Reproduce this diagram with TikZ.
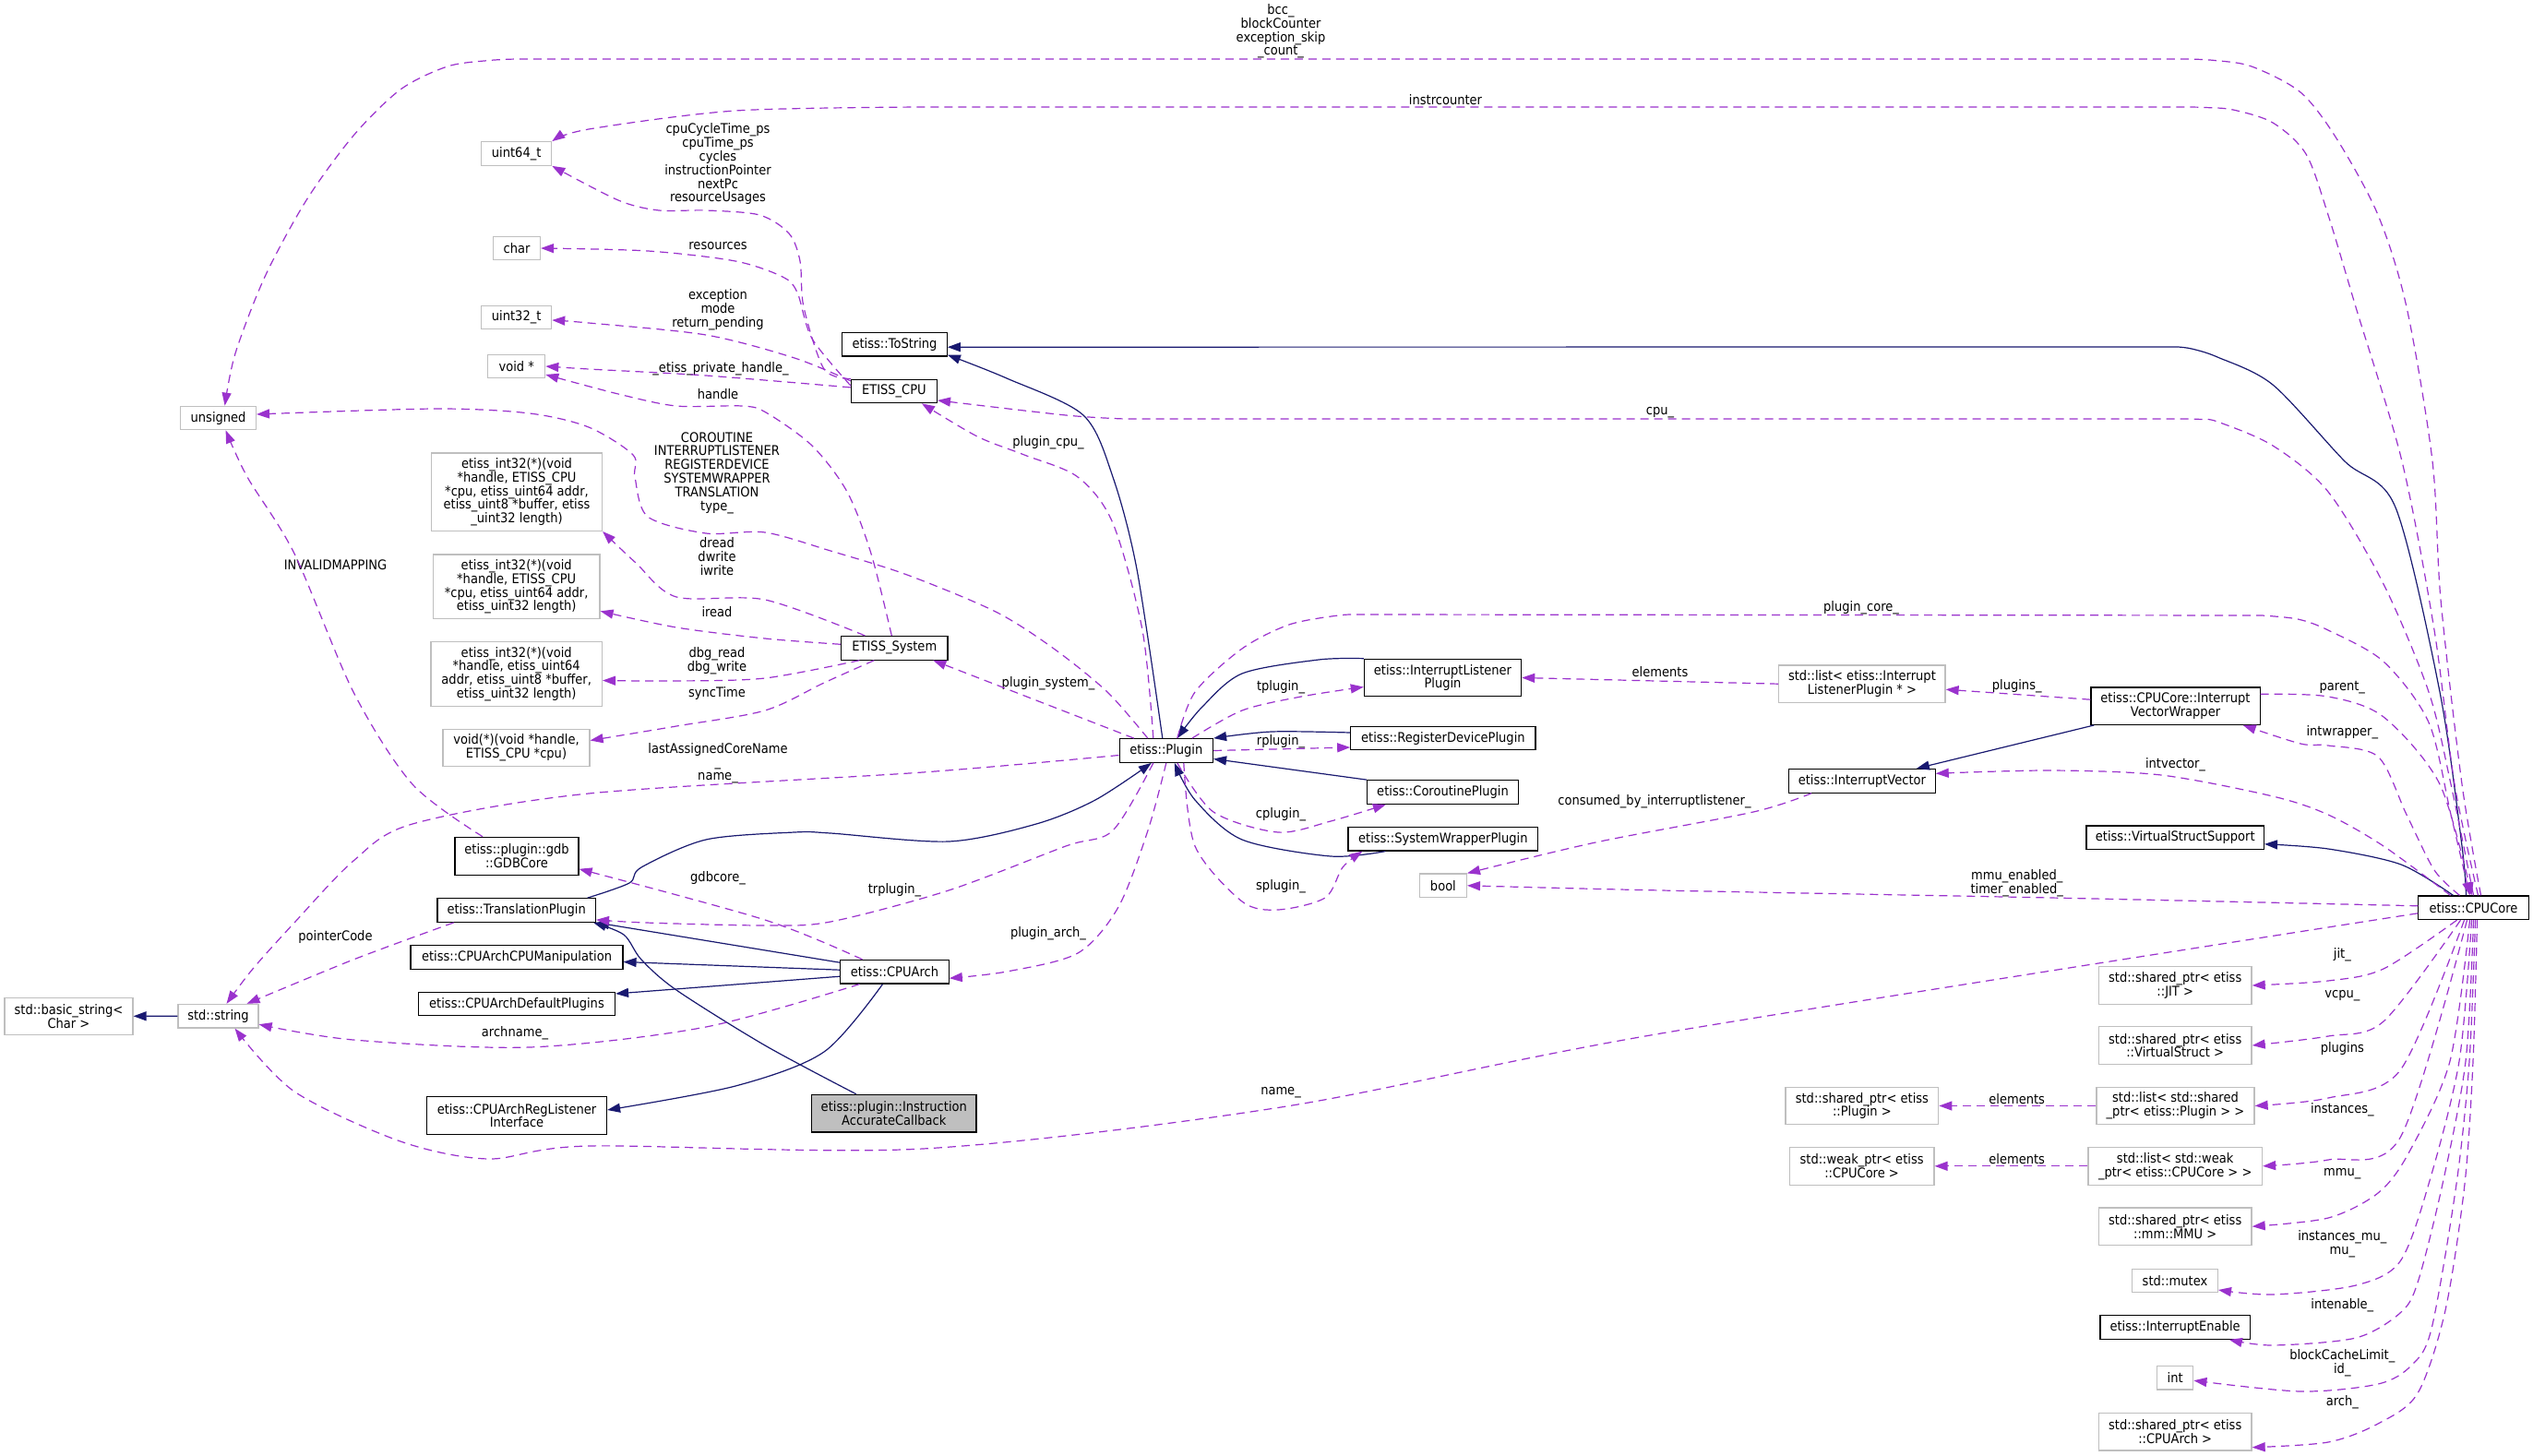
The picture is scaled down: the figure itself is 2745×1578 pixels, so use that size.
\documentclass[tikz,border=0pt]{standalone}
\usepackage{fontspec}
\setmainfont{DejaVu Sans}[FakeStretch=0.9]
\usetikzlibrary{arrows.meta}
\definecolor{purp}{HTML}{9A32CD}
\definecolor{navy}{HTML}{191970}
\definecolor{edgegray}{HTML}{BFBFBF}
\definecolor{graybox}{HTML}{BFBFBF}

\begin{document}
\begin{tikzpicture}[
    x=1pt, y=-1pt,
    every node/.style={font=\fontsize{14.5}{14.8}\selectfont, inner sep=3pt, align=center},
    cls/.style={rectangle, draw=black, line width=1.2pt, fill=white, minimum height=25.6},
    ext/.style={rectangle, draw=edgegray, line width=1.2pt, fill=white, minimum height=25.6},
    lbl/.style={inner sep=0pt},
    member/.style={draw=purp, line width=1.2pt, dash pattern=on 9pt off 6pt, -{Triangle[length=14pt,width=10pt]}, fill=none},
    inherit/.style={draw=navy, line width=1.2pt, -{Triangle[length=14pt,width=10pt]}}
]
\path[use as bounding box, fill=white] (0,0) rectangle (2745,1578);

\node[ext, minimum width=76] (u64) at (559.7,166.5) {uint64\_t};
\node[ext, minimum width=51] (chr) at (560,269) {char};
\node[ext, minimum width=76] (u32) at (559.7,344) {uint32\_t};
\node[ext, minimum width=62] (voidp) at (559.7,397) {void *};
\node[ext, minimum width=81.6] (unsig) at (236.6,453) {unsigned};
\node[ext, minimum width=185, minimum height=84.3] (fmem) at (560,533.2) {etiss\_int32(*)(void\\ *handle, ETISS\_CPU\\ *cpu, etiss\_uint64 addr,\\ etiss\_uint8 *buffer, etiss\\ \_uint32 length)};
\node[ext, minimum width=180.6, minimum height=69.7] (fio) at (559.7,635.9) {etiss\_int32(*)(void\\ *handle, ETISS\_CPU\\ *cpu, etiss\_uint64 addr,\\ etiss\_uint32 length)};
\node[ext, minimum width=185.5, minimum height=69.6] (fdbg) at (559.7,730.5) {etiss\_int32(*)(void\\ *handle, etiss\_uint64\\ addr, etiss\_uint8 *buffer,\\ etiss\_uint32 length)};
\node[ext, minimum width=159, minimum height=40.4] (fsync) at (559.5,810.5) {void(*)(void *handle,\\ ETISS\_CPU *cpu)};
\node[cls, minimum width=134, minimum height=41] (gdb) at (560,927.8) {etiss::plugin::gdb\\ ::GDBCore};
\node[cls, minimum width=171.4] (trans) at (559.7,986.5) {etiss::TranslationPlugin};
\node[cls, minimum width=230] (manip) at (560,1037.5) {etiss::CPUArchCPUManipulation};
\node[cls, minimum width=213] (defpl) at (560,1088) {etiss::CPUArchDefaultPlugins};
\node[ext, minimum width=139, minimum height=40] (bstr) at (74.5,1101.3) {std::basic\_string<\\ Char >};
\node[ext, minimum width=87] (str) at (236.5,1101.2) {std::string};
\node[cls, minimum width=195, minimum height=40.6] (regl) at (560,1209) {etiss::CPUArchRegListener\\ Interface};
\node[cls, minimum width=117.4] (arch) at (969.5,1053.2) {etiss::CPUArch};
\node[cls, fill=graybox, minimum width=178.5, minimum height=40.7] (iac) at (968.8,1206.7) {etiss::plugin::Instruction\\ AccurateCallback};
\node[cls, minimum width=93] (cpu) at (968.9,423.9) {ETISS\_CPU};
\node[cls, minimum width=113.5] (tostr) at (969.5,373.2) {etiss::ToString};
\node[cls, minimum width=115.5] (sys) at (969.3,702.3) {ETISS\_System};
\node[cls, minimum width=101.4] (plugin) at (1263.8,813.5) {etiss::Plugin};
\node[cls, minimum width=170.3, minimum height=40.4] (ilp) at (1563.5,734.5) {etiss::InterruptListener\\ Plugin};
\node[cls, minimum width=200.3] (rdp) at (1563.9,800) {etiss::RegisterDevicePlugin};
\node[cls, minimum width=164] (crp) at (1563.5,858.5) {etiss::CoroutinePlugin};
\node[cls, minimum width=205.6] (swp) at (1563.8,909.2) {etiss::SystemWrapperPlugin};
\node[ext, minimum width=51] (boolT) at (1563.9,959.8) {bool};
\node[ext, minimum width=180.2, minimum height=40.3] (ilist) at (2017.9,741.2) {std::list< etiss::Interrupt\\ ListenerPlugin * >};
\node[cls, minimum width=183.2, minimum height=40.3] (ivw) at (2357.5,765.2) {etiss::CPUCore::Interrupt\\ VectorWrapper};
\node[cls, minimum width=158.5] (ivec) at (2017.9,846.3) {etiss::InterruptVector};
\node[cls, minimum width=192.3] (vss) at (2357.2,907.8) {etiss::VirtualStructSupport};
\node[cls, minimum width=119.3] (core) at (2680.5,983.8) {etiss::CPUCore};
\node[ext, minimum width=165.7, minimum height=40.6] (jit) at (2357.2,1068) {std::shared\_ptr< etiss\\ ::JIT >};
\node[ext, minimum width=165.7, minimum height=40.6] (vs) at (2357.2,1133) {std::shared\_ptr< etiss\\ ::VirtualStruct >};
\node[ext, minimum width=171, minimum height=40.4] (plist) at (2357.5,1198.5) {std::list< std::shared\\ \_ptr< etiss::Plugin > >};
\node[ext, minimum width=165.7, minimum height=40.4] (pptr) at (2017.9,1198.5) {std::shared\_ptr< etiss\\ ::Plugin >};
\node[ext, minimum width=188.6, minimum height=41] (clist) at (2357.2,1263.8) {std::list< std::weak\\ \_ptr< etiss::CPUCore > >};
\node[ext, minimum width=156.7, minimum height=41] (wptr) at (2017.6,1263.8) {std::weak\_ptr< etiss\\ ::CPUCore >};
\node[ext, minimum width=165.7, minimum height=40.3] (mmu) at (2357.2,1329.2) {std::shared\_ptr< etiss\\ ::mm::MMU >};
\node[ext, minimum width=92.8] (mutex) at (2357,1388) {std::mutex};
\node[cls, minimum width=162.2] (ienable) at (2357.1,1438.5) {etiss::InterruptEnable};
\node[ext, minimum width=39.2] (intT) at (2357.2,1493.2) {int};
\node[ext, minimum width=165.7, minimum height=40.3] (aptr) at (2357.2,1551.9) {std::shared\_ptr< etiss\\ ::CPUArch >};

\node[lbl] (l-bcc) at (1388,34) {bcc\_\\blockCounter\\exception\_skip\\\_count\_};
\node[lbl] (l-instr) at (1566.5,108) {instrcounter};
\node[lbl] (l-cycle) at (778,178) {cpuCycleTime\_ps\\cpuTime\_ps\\cycles\\instructionPointer\\nextPc\\resourceUsages};
\node[lbl] (l-res) at (778,267) {resources};
\node[lbl] (l-exc) at (778,336) {exception\\mode\\return\_pending};
\node[lbl] (l-priv) at (781,399.5) {\_etiss\_private\_handle\_};
\node[lbl] (l-handle) at (778,427.3) {handle};
\node[lbl] (l-type) at (777,512.5) {COROUTINE\\INTERRUPTLISTENER\\REGISTERDEVICE\\SYSTEMWRAPPER\\TRANSLATION\\type\_};
\node[lbl] (l-dread) at (777,603.3) {dread\\dwrite\\iwrite};
\node[lbl] (l-iread) at (777,663.3) {iread};
\node[lbl] (l-dbg) at (777,715.8) {dbg\_read\\dbg\_write};
\node[lbl] (l-sync) at (777,751.7) {syncTime};
\node[lbl] (l-last) at (778,827) {lastAssignedCoreName\\\_\\name\_};
\node[lbl] (l-invalid) at (363.5,612.7) {INVALIDMAPPING};
\node[lbl] (l-pcpu) at (1136,480) {plugin\_cpu\_};
\node[lbl] (l-psys) at (1136,741) {plugin\_system\_};
\node[lbl] (l-tpl) at (1388,745) {tplugin\_};
\node[lbl] (l-rpl) at (1388,803.3) {rplugin\_};
\node[lbl] (l-cpl) at (1388,882.7) {cplugin\_};
\node[lbl] (l-spl) at (1388,961) {splugin\_};
\node[lbl] (l-elil) at (1799,728.3) {elements};
\node[lbl] (l-plugs) at (2185.7,743.3) {plugins\_};
\node[lbl] (l-pcore) at (2017,659) {plugin\_core\_};
\node[lbl] (l-cpu) at (1799,446.7) {cpu\_};
\node[lbl] (l-parent) at (2538.3,745) {parent\_};
\node[lbl] (l-intw) at (2538.3,793.3) {intwrapper\_};
\node[lbl] (l-intv) at (2357.5,829) {intvector\_};
\node[lbl] (l-consumed) at (1793,868.3) {consumed\_by\_interruptlistener\_};
\node[lbl] (l-mmuen) at (2185.7,957.3) {mmu\_enabled\_\\timer\_enabled\_};
\node[lbl] (l-gdb) at (778,951.7) {gdbcore\_};
\node[lbl] (l-trpl) at (969.5,965) {trplugin\_};
\node[lbl] (l-parch) at (1136,1011.7) {plugin\_arch\_};
\node[lbl] (l-pcode) at (363.5,1015) {pointerCode};
\node[lbl] (l-archname) at (558,1120) {archname\_};
\node[lbl] (l-name) at (1388,1184) {name\_};
\node[lbl] (l-jit) at (2538.3,1035) {jit\_};
\node[lbl] (l-vcpu) at (2538.3,1079) {vcpu\_};
\node[lbl] (l-plugins) at (2538.3,1136.7) {plugins};
\node[lbl] (l-elpp) at (2185.7,1190.7) {elements};
\node[lbl] (l-inst) at (2538.3,1202.7) {instances\_};
\node[lbl] (l-elwp) at (2185.7,1255.7) {elements};
\node[lbl] (l-mmu) at (2538.3,1271.7) {mmu\_};
\node[lbl] (l-mu) at (2538.3,1348.3) {instances\_mu\_\\mu\_};
\node[lbl] (l-inten) at (2538.3,1414.3) {intenable\_};
\node[lbl] (l-bcl) at (2538.3,1477.5) {blockCacheLimit\_\\id\_};
\node[lbl] (l-arch) at (2538.3,1519.3) {arch\_};

\draw[inherit] plot[smooth, tension=.5] coordinates {([xshift=-4pt]plugin.north) (1232,617) (1206,517) (1174,450) (1091,410) ([yshift=2pt]tostr.south east)};
\draw[inherit] plot[smooth, tension=.5] coordinates {([xshift=-8pt]core.north) (2668,917) (2644,750) (2596,550) (2541,500) (2463,417) (2403,387) (2375,378) (2360,376)} -- ([yshift=-3pt]tostr.east);
\draw[inherit] plot[smooth, tension=.5] coordinates {([xshift=-22pt]core.north) (2602,937) (2523,920) ([yshift=-7pt]vss.east)};
\draw[inherit] plot[smooth, tension=.5] coordinates {(ilp.north west) (1429,715) (1346,730) (1302,767) ([xshift=12pt]plugin.north)};
\draw[inherit] plot[smooth, tension=.5] coordinates {([yshift=6pt]rdp.west) (1378,793) (plugin.north east)};
\draw[inherit] (crp.north west) -- ([yshift=-9pt]plugin.east);
\draw[inherit] plot[smooth, tension=.5] coordinates {([xshift=41pt]swp.south west) (1442,928) (1346,910) (1295,867) ([xshift=9pt]plugin.south)};
\draw[inherit] plot[smooth, tension=.5] coordinates {([xshift=77pt]trans.north) (682,957) (695,940) (765,910) (861,902) (900,903) (1028,912) (1123,893) (1187,867) ([xshift=-16pt]plugin.south)};
\draw[inherit] ([yshift=10pt]arch.west) -- (trans.south east);
\draw[inherit] ([yshift=2pt]arch.west) -- ([yshift=-5pt]manip.east);
\draw[inherit] ([yshift=-5pt]arch.west) -- ([yshift=11pt]defpl.east);
\draw[inherit] plot[smooth, tension=.5] coordinates {([xshift=-13pt]arch.south) (893,1140) (797,1177) ([yshift=6pt]regl.east)};
\draw[inherit] plot[smooth, tension=.5] coordinates {([xshift=-41pt]iac.north) (829,1133) (733,1073) (695,1040) (676,1013) ([xshift=-3pt]trans.south east)};
\draw[inherit] (str.west) -- (bstr.east);
\draw[inherit] ([xshift=4pt]ivw.south west) -- ([xshift=59pt]ivec.north);

\draw[member] plot[smooth, tension=.5] coordinates {([xshift=8pt]core.north) (2668,850) (2645,650) (2636,500) (2608,333) (2577,233) (2532,150) (2493,100) (2440,72) (2400,65.5) (2372,64)} -- plot[smooth, tension=.5] coordinates {(560,64) (530,65.5) (485,72) (434,97) (383,147) (332,217) (287,300) (255,383) ([xshift=7pt]unsig.north)};
\draw[member] plot[smooth, tension=.5] coordinates {([xshift=5pt]core.north) (2660,850) (2638,683) (2603,500) (2553,333) (2523,233) (2499,167) (2463,133) (2420,119) (2390,116.5) (2372,116)} -- plot[smooth, tension=.5] coordinates {(1000,116) (797,120) (638,140) (u64.north east)};
\draw[member] plot[smooth, tension=.5] coordinates {(core.north) (2656,850) (2632,750) (2583,633) (2523,533) (2463,483) (2403,457) (2385,454.5) (2372,454)} -- plot[smooth, tension=.5] coordinates {(1219,454) (1155,450) (cpu.-12)};
\draw[member] plot[smooth, tension=.5] coordinates {([xshift=12pt]plugin.north) (1295,750) (1346,703) (1397,677) (1450,667) (1474,666)} -- plot[smooth, tension=.5] coordinates {(2451,667) (2490,671) (2523,683) (2583,717) (2632,783) (2656,883) ([xshift=-4pt]core.north)};
\draw[member] plot[smooth, tension=.5] coordinates {([yshift=13pt]ivw.east) (2523,755) (2583,777) (2644,850) ([xshift=-2pt]core.north)};
\draw[member] plot[smooth, tension=.5] coordinates {([xshift=-25pt]core.north) (2583,917) (2523,883) (2463,863) (2342,840) (2222,835) ([yshift=8pt]ivec.east)};
\draw[member] plot[smooth, tension=.5] coordinates {([xshift=-15pt]core.north) (2638,943) (2608,883) (2577,820) (2523,808) (2493,806) ([xshift=-19pt]ivw.south east)};
\draw[member] plot[smooth, tension=.5] coordinates {([xshift=-18pt]core.south) (2583,1050) (2523,1063) (jit.east)};
\draw[member] plot[smooth, tension=.5] coordinates {([xshift=-14pt]core.south) (2583,1107) (2523,1123) (vs.east)};
\draw[member] plot[smooth, tension=.5] coordinates {([xshift=-10pt]core.south) (2601,1160) (2523,1190) (plist.east)};
\draw[member] plot[smooth, tension=.5] coordinates {([xshift=-7pt]core.south) (2601,1233) (2523,1257) (clist.east)};
\draw[member] plot[smooth, tension=.5] coordinates {([xshift=-4pt]core.south) (2655,1150) (2610,1250) (2577,1293) (2523,1320) (mmu.east)};
\draw[member] plot[smooth, tension=.5] coordinates {([xshift=-2pt]core.south) (2665,1150) (2632,1283) (2601,1367) (2553,1393) (2463,1403) ([yshift=-10pt]mutex.east)};
\draw[member] plot[smooth, tension=.5] coordinates {(core.south) (2672,1150) (2647,1283) (2620,1390) (2601,1423) (2553,1450) (2463,1458) ([xshift=-23pt]ienable.south east)};
\draw[member] plot[smooth, tension=.5] coordinates {([xshift=2pt]core.south) (2676,1150) (2662,1283) (2635,1440) (2613,1480) (2577,1500) (2493,1508) ([yshift=-3pt]intT.east)};
\draw[member] plot[smooth, tension=.5] coordinates {([xshift=4pt]core.south) (2680,1150) (2671,1283) (2650,1420) (2620,1510) (2577,1543) (2523,1563) ([yshift=4pt]aptr.south east)};
\draw[member] plot[smooth, tension=.5] coordinates {([yshift=-6pt]core.west) (1800,1120) (1388,1200) (1000,1245) (638,1242) (529,1256) (434,1237) (319,1183) ([xshift=18pt]str.south)};
\draw[member] plot[smooth, tension=.5] coordinates {([yshift=2pt]core.west) (2222,973) (1800,965) (boolT.east)};
\draw[member] plot[smooth, tension=.5] coordinates {([xshift=25pt]ivec.south west) (1900,880) (1729,913) (boolT.north east)};
\draw[member] (ilist.west) -- (ilp.east);
\draw[member] ([yshift=7pt]ivw.west) -- ([yshift=-6pt]ilist.east);
\draw[member] (plist.west) -- (pptr.east);
\draw[member] (clist.west) -- (wptr.east);

\draw[member] plot[smooth, tension=.5] coordinates {([xshift=28pt]plugin.north) (1346,770) (1410,755) ([yshift=-10pt]ilp.west)};
\draw[member] (plugin.east) -- ([yshift=-10pt]rdp.west);
\draw[member] plot[smooth, tension=.5] coordinates {([xshift=12pt]plugin.south) (1315,880) (1385,902) (1442,890) ([xshift=21pt]crp.south west)};
\draw[member] plot[smooth, tension=.5] coordinates {([xshift=19pt]plugin.south) (1295,917) (1346,977) (1385,986) (1436,973) (1455,940) ([xshift=16pt]swp.south west)};
\draw[member] plot[smooth, tension=.5] coordinates {(plugin.south) (1244,900) (1212,983) (1168,1033) (1091,1053) ([yshift=-7pt]arch.east)};
\draw[member] plot[smooth, tension=.5] coordinates {([xshift=-14pt]plugin.south) (1206,900) (1155,917) (1028,965) (900,999) (829,1003) (700,1000) ([yshift=3pt]trans.south east)};
\draw[member] ([xshift=-35pt]plugin.north) -- ([xshift=42pt]sys.south);
\draw[member] plot[smooth, tension=.5] coordinates {([xshift=-14pt]plugin.north) (1238,683) (1206,567) (1168,517) (1110,493) (1059,473) ([xshift=30pt]cpu.south)};
\draw[member] plot[smooth, tension=.5] coordinates {([xshift=-20pt]plugin.north) (1200,750) (1142,703) (1079,663) (983,623) (900,597) (829,577) (765,578) (702,560) (688,517) (686,493) (638,463) (574,448) (472,443) ([yshift=4pt]unsig.east)};
\draw[member] plot[smooth, tension=.5] coordinates {([yshift=-5pt]plugin.west) (1000,837) (638,860) (447,893) (383,933) (319,1000) (274,1050) ([xshift=9pt]str.north)};
\draw[member] plot[smooth, tension=.5] coordinates {([xshift=-37pt]gdb.north) (447,850) (383,750) (319,600) (268,517) ([xshift=8pt]unsig.south)};
\draw[member] plot[smooth, tension=.5] coordinates {([xshift=-68pt]trans.south) (383,1040) ([xshift=31pt]str.north)};
\draw[member] plot[smooth, tension=.5] coordinates {([xshift=-38pt]arch.south) (765,1113) (574,1135) (383,1127) ([yshift=-9pt]str.east)};
\draw[member] plot[smooth, tension=.5] coordinates {([xshift=-35pt]arch.north) (829,997) ([yshift=-14pt]gdb.east)};

\draw[member] plot[smooth, tension=.5] coordinates {([xshift=-3pt]sys.north) (944,600) (918,533) (880,483) (830,447) (804,440) (733,440) (670,427) ([yshift=-9pt]voidp.east)};
\draw[member] plot[smooth, tension=.5] coordinates {([xshift=-32pt]sys.north) (829,650) (733,647) (689,610) (fmem.south east)};
\draw[member] plot[smooth, tension=.5] coordinates {([yshift=4pt]sys.west) (829,692) (733,680) ([yshift=9pt]fio.south east)};
\draw[member] plot[smooth, tension=.5] coordinates {([xshift=-38pt]sys.south) (829,735) (733,738) ([yshift=-7pt]fdbg.east)};
\draw[member] plot[smooth, tension=.5] coordinates {([xshift=-22pt]sys.south) (893,740) (829,770) (733,787) ([yshift=8pt]fsync.east)};
\draw[member] plot[smooth, tension=.5] coordinates {([yshift=4pt]cpu.west) (765,407) (638,400) (voidp.east)};
\draw[member] plot[smooth, tension=.5] coordinates {([yshift=11pt]cpu.west) (861,388) (765,363) (638,350) ([yshift=-3pt]u32.east)};
\draw[member] plot[smooth, tension=.5] coordinates {([yshift=6pt]cpu.west) (880,367) (864,317) (848,300) (797,283) (702,272) (chr.east)};
\draw[member] plot[smooth, tension=.5] coordinates {(cpu.north west) (893,400) (871,333) (867,283) (855,253) (823,233) (765,228) (714,228) (670,217) (u64.south east)};
\end{tikzpicture}
\end{document}
